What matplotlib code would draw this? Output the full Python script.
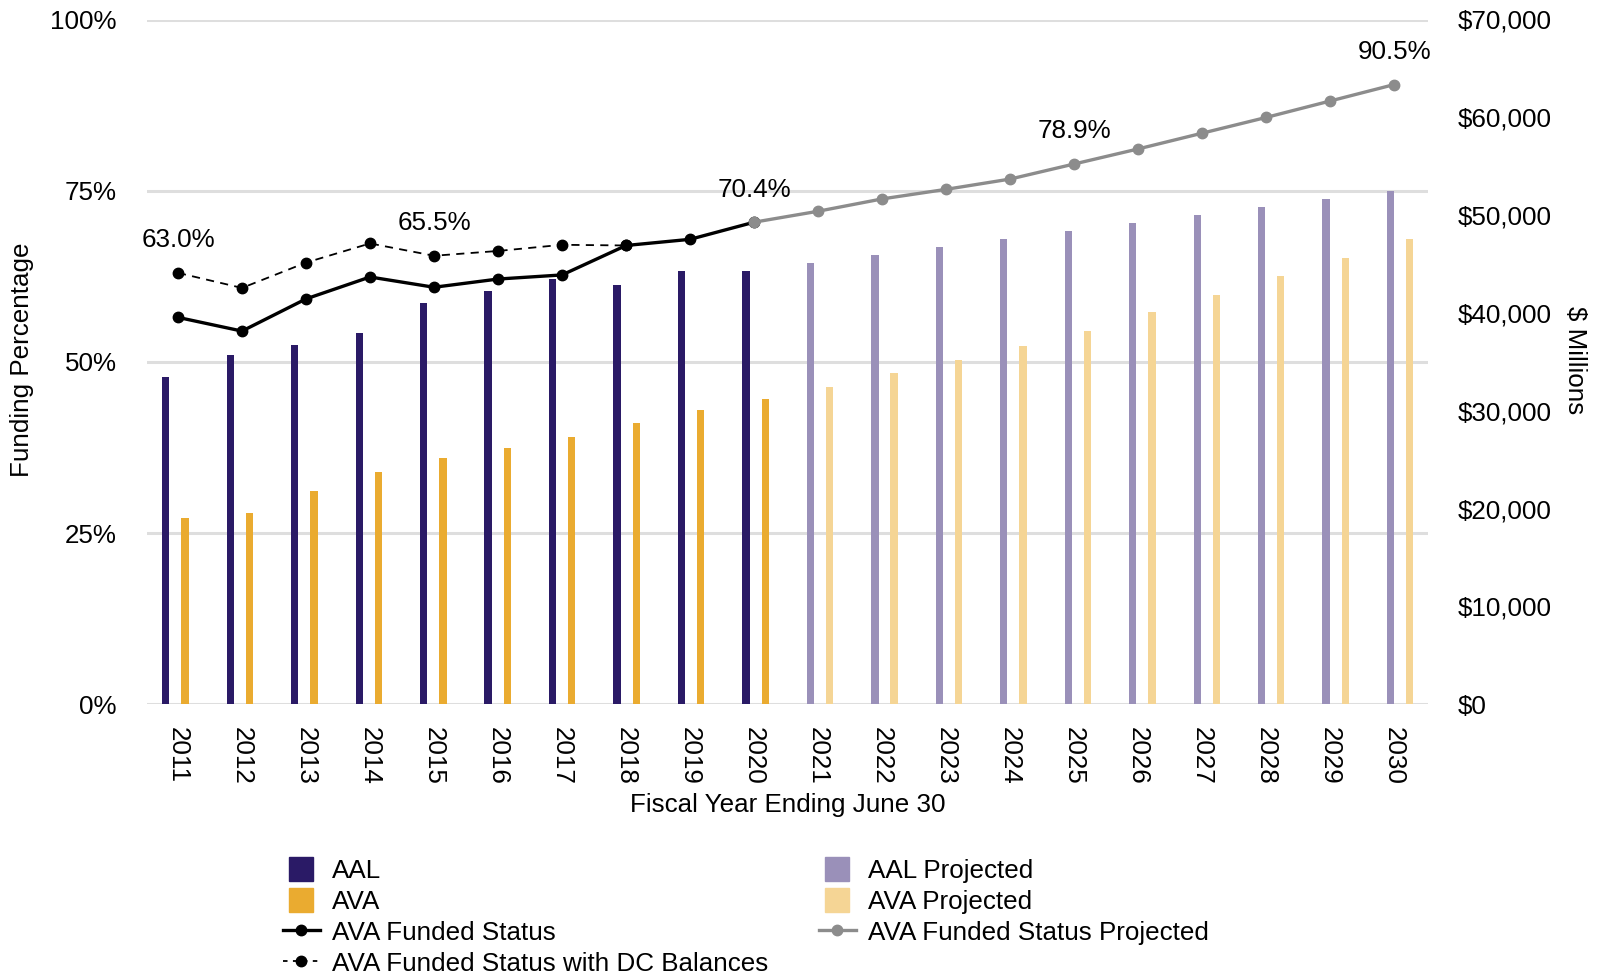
import matplotlib
matplotlib.use("Agg")
import matplotlib.pyplot as plt
import numpy as np
from matplotlib.patches import Rectangle
from matplotlib.lines import Line2D
from matplotlib.legend_handler import HandlerPatch
from matplotlib.ticker import FuncFormatter

plt.rcParams['font.family'] = ['Liberation Sans', 'DejaVu Sans']

# ---- data ----------------------------------------------------------------
years = list(range(2011, 2031))
hist_years = years[:10]
proj_years = years[10:]

aal_hist = [33500, 35700, 36700, 38000, 41000, 42250, 43500, 42850, 44300, 44300]
ava_hist = [19000, 19600, 21800, 23700, 25150, 26200, 27350, 28800, 30050, 31200]
aal_proj = [45100, 45900, 46750, 47550, 48400, 49200, 50000, 50850, 51650, 52450]
ava_proj = [32450, 33900, 35150, 36600, 38200, 40050, 41850, 43800, 45600, 47600]

funded = [56.5, 54.5, 59.2, 62.4, 60.9, 62.1, 62.7, 67.0, 67.9, 70.4]
funded_dc_years = years[:8]
funded_dc = [63.0, 60.8, 64.5, 67.3, 65.5, 66.2, 67.1, 67.0]
funded_proj_years = years[9:]
funded_proj = [70.4, 72.0, 73.8, 75.2, 76.7, 78.9, 81.1, 83.4, 85.7, 88.1, 90.5]

pct_ticks = [0, 25, 50, 75, 100]
usd_ticks = [0, 10000, 20000, 30000, 40000, 50000, 60000, 70000]
usd_max = 70000

labelled = [("dc", 2011), ("dc", 2015), ("proj", 2020), ("proj", 2025), ("proj", 2030)]

# ---- styling -------------------------------------------------------------
C_AAL = "#2a1a66"
C_AVA = "#eaab30"
C_AAL_P = "#9a90b9"
C_AVA_P = "#f5d595"
C_PROJ_LINE = "#8c8c8c"
C_GRID = "#dedede"
FS = 18.7

W, H = 1601, 974
fig = plt.figure(figsize=(W / 100, H / 100), dpi=100)

left_px, right_px, top_px, bot_px = 147, 1427.5, 19.5, 704.3
ax = fig.add_axes([left_px / W, 1 - bot_px / H,
                   (right_px - left_px) / W, (bot_px - top_px) / H])
ax2 = ax.twinx()

x = np.arange(len(years))
xi = {y: i for i, y in enumerate(years)}

# bar groups sit on a slightly wider grid than the year ticks
group_x = x * 1.007 - 0.04
bw = 0.114
off = 0.15

# bars on the dollar scale (primary axes, ticks on the right)
hx = group_x[:len(hist_years)]
px = group_x[len(hist_years):]
ax.bar(hx - off, aal_hist, bw, color=C_AAL, zorder=2)
ax.bar(hx + off, ava_hist, bw, color=C_AVA, zorder=2)
ax.bar(px - off, aal_proj, bw, color=C_AAL_P, zorder=2)
ax.bar(px + off, ava_proj, bw, color=C_AVA_P, zorder=2)

for p in pct_ticks:
    ax.axhline(p / 100 * usd_max, color=C_GRID, lw=2.2, zorder=0)

ax.set_xlim(-0.484, 19.52)
ax.set_ylim(0, usd_max)
ax.set_yticks(usd_ticks)
ax.yaxis.set_major_formatter(FuncFormatter(lambda v, _: f"${v:,.0f}"))
ax.yaxis.tick_right()
ax.tick_params(axis='y', length=0, pad=22, labelsize=FS,
               left=False, labelleft=False, right=True, labelright=True)
ax.set_xticks(x)
ax.set_xticklabels([str(y) for y in years], rotation=270, fontsize=FS)
ax.tick_params(axis='x', length=0, pad=16)
for s in ax.spines.values():
    s.set_visible(False)

# funded-status lines on the percentage scale (twin axes, ticks on the left)
ax2.set_ylim(0, 100)
ax2.set_yticks(pct_ticks)
ax2.yaxis.set_major_formatter(FuncFormatter(lambda v, _: f"{v:.0f}%"))
ax2.yaxis.tick_left()
ax2.tick_params(axis='y', length=0, pad=22, labelsize=FS,
                right=False, labelright=False, left=True, labelleft=True)
for s in ax2.spines.values():
    s.set_visible(False)

ms = 7.5
ax2.plot([xi[y] for y in funded_dc_years], funded_dc, color="black", lw=1.3,
         ls=(0, (4.5, 3.5)), marker="o", ms=ms, zorder=3)
ax2.plot([xi[y] for y in hist_years], funded, color="black", lw=2.4, marker="o",
         ms=ms, zorder=4)
ax2.plot([xi[y] for y in funded_proj_years], funded_proj, color=C_PROJ_LINE, lw=2.4,
         marker="o", ms=ms, zorder=4)

series = {"dc": (funded_dc_years, funded_dc), "proj": (funded_proj_years, funded_proj)}
for key, yr in labelled:
    ys, vals = series[key]
    v = vals[ys.index(yr)]
    ax2.annotate(f"{v:.1f}%", (xi[yr], v), xytext=(0, 23.5), textcoords="offset points",
                 ha="center", va="center", fontsize=FS)

# axis titles
fig.text(22.5 / W, 1 - 360 / H, "Funding Percentage", rotation=90, ha="center",
         va="center", fontsize=FS)
fig.text(1575 / W, 1 - 360 / H, "$ Millions", rotation=270, ha="center",
         va="center", fontsize=FS)
fig.text(787.5 / W, 1 - 805 / H, "Fiscal Year Ending June 30", ha="center",
         va="center", fontsize=FS)


# legend: square swatches centred in a wider handle box
def square(legend, orig_handle, xdescent, ydescent, width, height, fontsize):
    side = height
    return Rectangle((-xdescent + (width - side) / 2, -ydescent), side, side)


hmap = {Rectangle: HandlerPatch(patch_func=square)}
common = dict(frameon=False, fontsize=FS, handlelength=1.42, handleheight=1.05,
              handletextpad=0.45, labelspacing=0.2, borderpad=0, borderaxespad=0,
              loc="upper left", handler_map=hmap)

col1 = [Rectangle((0, 0), 1, 1, color=C_AAL), Rectangle((0, 0), 1, 1, color=C_AVA),
        Line2D([], [], color="black", lw=2.4, marker="o", ms=ms),
        Line2D([], [], color="black", lw=1.3, ls=(0, (2.5, 3)), marker="o", ms=ms)]
lab1 = ["AAL", "AVA", "AVA Funded Status", "AVA Funded Status with DC Balances"]
col2 = [Rectangle((0, 0), 1, 1, color=C_AAL_P), Rectangle((0, 0), 1, 1, color=C_AVA_P),
        Line2D([], [], color=C_PROJ_LINE, lw=2.4, marker="o", ms=ms)]
lab2 = ["AAL Projected", "AVA Projected", "AVA Funded Status Projected"]

leg1 = fig.legend(col1, lab1, bbox_to_anchor=(283 / W, 1 - 857 / H), **common)
leg2 = fig.legend(col2, lab2, bbox_to_anchor=(819 / W, 1 - 857 / H), **common)

fig.savefig("out.png", dpi=100)
